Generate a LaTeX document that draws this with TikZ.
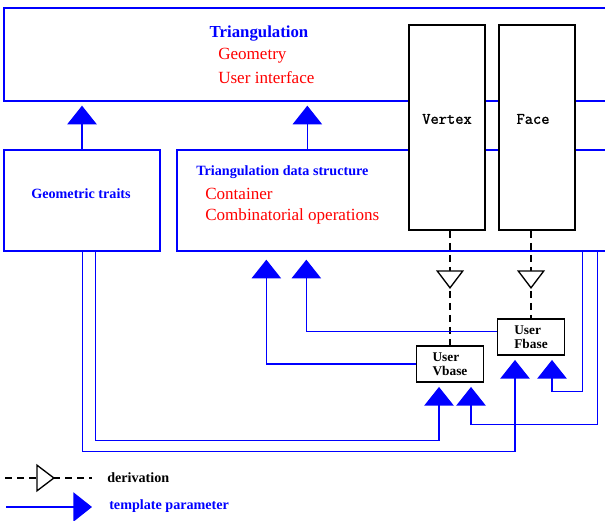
\documentclass[tikz,border=0pt]{standalone}
\usepackage{fontspec}
\setmainfont{Liberation Serif}
\newfontfamily\boxmono[FakeBold=1.5]{Latin Modern Mono}
\usetikzlibrary{arrows.meta,decorations.markings}

\tikzset{
  bluebox/.style={draw=blue, line width=1pt, fill=white, inner sep=0pt},
  blackbox/.style={draw=black, line width=1.4pt, fill=white, inner sep=0pt},
  headtxt/.style={text=blue, inner sep=0pt, font=\bfseries\fontsize{10.6}{12}\selectfont},
  redtxt/.style={text=red, inner sep=0pt, anchor=west, font=\fontsize{12.8}{14}\selectfont},
  monotxt/.style={inner sep=0pt, font=\boxmono\fontsize{12}{13}\selectfont},
  basebox/.style={blackbox, minimum width=67*0.75pt, minimum height=36*0.75pt,
    align=left, font=\bfseries\fontsize{10}{10.5}\selectfont},
  tparam/.style={draw=blue, line width=1pt, -{Triangle[length=14pt,width=22pt]}, shorten >=3pt},
  deriv/.style={draw=black, line width=1pt, dash pattern=on 5pt off 4pt,
    postaction={decorate}, decoration={markings, mark=at position #1 with
      {\arrow[line width=1pt, solid]{Triangle[length=14pt,width=21pt,fill=white]}}}}
}

\begin{document}
\begin{tikzpicture}[x=0.75pt,y=-0.75pt]
  \useasboundingbox (0,0) rectangle (605,520);
  \clip (0,0) rectangle (605,520);

  % boxes
  \node [bluebox, minimum width=636*0.75pt, minimum height=93*0.75pt] (tri) at (322,54.5) {};
  \node [bluebox, minimum width=156*0.75pt, minimum height=101*0.75pt] (geo) at (82,200.5) {};
  \node [bluebox, minimum width=463*0.75pt, minimum height=101*0.75pt] (tds) at (408.5,200.5) {};
  \node [blackbox, minimum width=76*0.75pt, minimum height=205*0.75pt] (vertex) at (447,127.5) {};
  \node [blackbox, minimum width=76*0.75pt, minimum height=205*0.75pt] (face) at (537,127.5) {};
  \node [basebox] (vbase) at (450,364) {User\\Vbase};
  \node [basebox] (fbase) at (531,337) {User\\Fbase};

  % texts
  \node [headtxt, font=\bfseries\fontsize{12.6}{14}\selectfont] (tritxt) at (259,34) {Triangulation};
  \node [redtxt] (geomtxt) at (218,56) {Geometry};
  \node [redtxt] (uitxt) at (218,78) {User interface};
  \node [headtxt] (geotxt) at (81,194) {Geometric traits};
  \node [headtxt, anchor=west] (tdstxt) at (196,172) {Triangulation data structure};
  \node [redtxt] (conttxt) at (205,194) {Container};
  \node [redtxt] (combtxt) at (205,216) {Combinatorial operations};
  \node [monotxt] (vertextxt) at (447,119) {Vertex};
  \node [monotxt] (facetxt) at (533,119) {Face};

  % derivation
  \draw [deriv=43.5pt] (vbase.north |- vertex.south) -- (vbase.north);
  \draw [deriv=43.5pt] (fbase.north |- face.south) -- (fbase.north);

  % template parameters
  \coordinate (tdsup) at ([xshift=131*0.75pt]tds.north west);
  \draw [tparam] (geo.north) -- (geo.north |- tri.south);
  \draw [tparam] (tdsup) -- (tdsup |- tri.south);

  \coordinate (tdsin1) at ([xshift=90*0.75pt]tds.south west);
  \coordinate (tdsin2) at ([xshift=130*0.75pt]tds.south west);
  \draw [tparam, shorten >=6pt] (vbase.west) -| (tdsin1);
  \draw [tparam, shorten >=6pt] ([yshift=4pt]fbase.west) -| (tdsin2);

  \coordinate (geoout1) at ([xshift=79*0.75pt]geo.south west);
  \coordinate (geoout2) at ([xshift=92*0.75pt]geo.south west);
  \coordinate (tdsout1) at ([xshift=406*0.75pt]tds.south west);
  \coordinate (tdsout2) at ([xshift=421*0.75pt]tds.south west);
  \coordinate (vbin1) at (439,0 |- vbase.south);
  \coordinate (vbin2) at (471,0 |- vbase.south);
  \coordinate (fbin1) at (515,0 |- fbase.south);
  \coordinate (fbin2) at (552,0 |- fbase.south);
  \draw [tparam] (geoout2) -- ++(0,189) -| (vbin1);
  \draw [tparam] (geoout1) -- ++(0,200) -| (fbin1);
  \draw [tparam] (tdsout2) -- ++(0,173) -| (vbin2);
  \draw [tparam] (tdsout1) -- ++(0,140) -| (fbin2);

  % legend
  \coordinate (derivA) at (5,478);
  \coordinate (derivB) at (92,478);
  \draw [deriv=37.5pt] (derivA) -- (derivB);
  \node [inner sep=0pt, anchor=west, font=\bfseries\fontsize{10.6}{12}\selectfont] (derivtxt) at (107,478) {derivation};
  \coordinate (tpA) at (6,507);
  \coordinate (tpB) at (92,507);
  \draw [tparam, shorten >=0pt] (tpA) -- (tpB);
  \node [headtxt, anchor=west] (tptxt) at (109,506) {template parameter};
\end{tikzpicture}
\end{document}
